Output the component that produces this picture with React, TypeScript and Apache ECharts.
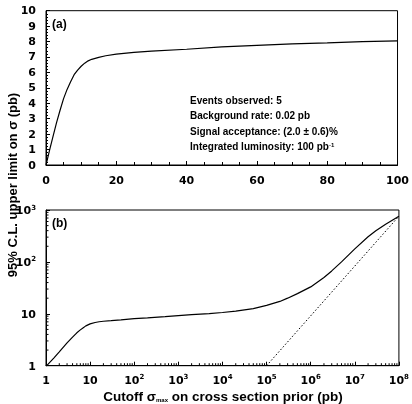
import React, { useEffect, useRef } from "react";
import * as echarts from "echarts";

// Panel (a): linear cutoff scale
const topX = [0, 1, 2, 3, 4, 5, 6, 7, 8, 9, 10, 11, 12, 13, 15, 17, 20, 25, 30, 40, 50, 60, 70, 80, 90, 100];
const topY = [0, 0.95, 1.85, 2.75, 3.55, 4.3, 4.9, 5.4, 5.85, 6.15, 6.4, 6.6, 6.75, 6.85, 6.98, 7.08, 7.18, 7.3, 7.38, 7.5, 7.65, 7.75, 7.85, 7.92, 8.0, 8.05];

// Panel (b): logarithmic cutoff scale
const botX = [1, 1.5, 2, 3, 4, 5, 6, 7, 8, 10, 13, 16, 20, 30, 50, 100, 200, 500, 1e3, 2e3, 5e3, 1e4, 2e4, 5e4, 1e5, 2e5, 3e5, 5e5, 1e6, 2e6, 3e6, 5e6, 1e7, 2e7, 3e7, 5e7, 1e8];
const botY = [0.97, 1.4, 1.85, 2.75, 3.55, 4.3, 4.9, 5.4, 5.85, 6.4, 6.8, 7.03, 7.18, 7.38, 7.65, 8.05, 8.35, 8.8, 9.2, 9.6, 10.1, 10.6, 11.3, 12.6, 14.5, 17.3, 20, 24.5, 33, 50, 67, 100, 178, 305, 398, 533, 760];

// Dotted asymptote
const dashX = [1e5, 1e8];
const dashY = [1, 760];

const infoLines = [
  "Events observed: 5",
  "Background rate: 0.02 pb",
  "Signal acceptance: (2.0 \u00b1 0.6)%",
  "Integrated luminosity: 100 pb{sup|-1}",
];

const minorMultipliers = [2, 3, 4, 5, 6, 7, 8, 9];
const xDecades = [1, 10, 100, 1e3, 1e4, 1e5, 1e6, 1e7];
const yDecades = [1, 10, 100];

const TICK_FONT = "DejaVu Sans";
const TEXT_FONT = "Liberation Sans";

function logLabel(v: number) {
  const e = Math.round(Math.log10(v));
  if (e === 0) return "{b|1}";
  if (e === 1) return "{b|10}";
  return "{b|10}{sup|" + e + "}";
}

const tickRich = {
  b: { fontFamily: TICK_FONT, fontWeight: "bold", fontSize: 11, color: "#000", lineHeight: 12, verticalAlign: "bottom" },
  sup: { fontFamily: TICK_FONT, fontWeight: "bold", fontSize: 7, color: "#000", lineHeight: 7, verticalAlign: "top" },
};

export default function App() {
  const ref = useRef<HTMLDivElement>(null);
  useEffect(() => {
    if (!ref.current) return;
    const chart = echarts.init(ref.current, null, { renderer: "svg" });

    const minorXData: number[][] = [];
    xDecades.forEach((d) => minorMultipliers.forEach((m) => minorXData.push([m * d, 1])));
    const minorYData: number[][] = [];
    yDecades.forEach((d) => minorMultipliers.forEach((m) => minorYData.push([1, m * d])));

    const axisLabelBase = {
      fontFamily: TICK_FONT,
      fontWeight: "bold",
      fontSize: 11,
      color: "#000",
    };

    const option: any = {
      animation: false,
      grid: [
        { left: 46, top: 10.7, width: 355, height: 154.3, show: true, borderColor: "#000", borderWidth: 1, containLabel: false },
        { left: 46, top: 210, width: 355, height: 155.7, show: true, borderColor: "#000", borderWidth: 1, containLabel: false },
      ],
      xAxis: [
        {
          type: "value", gridIndex: 0, min: 0, max: 100, interval: 20,
          axisLine: { lineStyle: { color: "#000", width: 1 } },
          axisTick: { inside: true, length: 4, lineStyle: { color: "#000" } },
          minorTick: { show: true, splitNumber: 4, length: 3, lineStyle: { color: "#000" } },
          splitLine: { show: false },
          axisLabel: { ...axisLabelBase, margin: 10 },
        },
        {
          type: "log", logBase: 10, gridIndex: 1, min: 1, max: 1e8, interval: 1,
          axisLine: { lineStyle: { color: "#000", width: 1 } },
          axisTick: { inside: true, length: 4, lineStyle: { color: "#000" } },
          splitLine: { show: false },
          axisLabel: { ...axisLabelBase, margin: 8, formatter: logLabel, rich: tickRich },
        },
      ],
      yAxis: [
        {
          type: "value", gridIndex: 0, min: 0, max: 10, interval: 1,
          axisLine: { lineStyle: { color: "#000", width: 1 } },
          axisTick: { inside: true, length: 4, lineStyle: { color: "#000" } },
          minorTick: { show: true, splitNumber: 5, length: 2, lineStyle: { color: "#000" } },
          splitLine: { show: false },
          axisLabel: { ...axisLabelBase, margin: 10 },
        },
        {
          type: "log", logBase: 10, gridIndex: 1, min: 1, max: 1000, interval: 1,
          axisLine: { lineStyle: { color: "#000", width: 1 } },
          axisTick: { inside: true, length: 4, lineStyle: { color: "#000" } },
          splitLine: { show: false },
          axisLabel: { ...axisLabelBase, margin: 10, formatter: logLabel, rich: tickRich },
        },
      ],
      series: [
        {
          type: "line", xAxisIndex: 0, yAxisIndex: 0, showSymbol: false,
          lineStyle: { color: "#000", width: 1.2 },
          data: topX.map((x, i) => [x, topY[i]]),
        },
        {
          type: "line", xAxisIndex: 1, yAxisIndex: 1, showSymbol: false,
          lineStyle: { color: "#000", width: 1.2 },
          data: botX.map((x, i) => [x, botY[i]]),
        },
        {
          type: "line", xAxisIndex: 1, yAxisIndex: 1, showSymbol: false,
          lineStyle: { color: "#000", width: 1, type: [1.5, 2] },
          data: dashX.map((x, i) => [x, dashY[i]]),
        },
        {
          type: "custom", xAxisIndex: 1, yAxisIndex: 1, silent: true, clip: false,
          renderItem: (_p: any, api: any) => {
            const pt = api.coord([api.value(0), api.value(1)]);
            return { type: "line", shape: { x1: pt[0], y1: pt[1], x2: pt[0], y2: pt[1] - 2.5 }, style: { stroke: "#000", lineWidth: 1 } };
          },
          data: minorXData,
        },
        {
          type: "custom", xAxisIndex: 1, yAxisIndex: 1, silent: true, clip: false,
          renderItem: (_p: any, api: any) => {
            const pt = api.coord([api.value(0), api.value(1)]);
            return { type: "line", shape: { x1: pt[0], y1: pt[1], x2: pt[0] + 2.5, y2: pt[1] }, style: { stroke: "#000", lineWidth: 1 } };
          },
          data: minorYData,
        },
      ],
      graphic: [
        { type: "text", x: 52, y: 24, style: { text: "(a)", fontFamily: TEXT_FONT, fontWeight: "bold", fontSize: 12, fill: "#000", align: "left", verticalAlign: "middle" } },
        { type: "text", x: 52, y: 223, style: { text: "(b)", fontFamily: TEXT_FONT, fontWeight: "bold", fontSize: 12, fill: "#000", align: "left", verticalAlign: "middle" } },
        ...infoLines.map((t, i) => ({
          type: "text", x: 190, y: 100 + i * 15.6,
          style: {
            text: t, fontFamily: TEXT_FONT, fontWeight: "bold", fontSize: 10, fill: "#000", align: "left", verticalAlign: "middle",
            rich: {
              sup: { fontFamily: TEXT_FONT, fontWeight: "bold", fontSize: 6, fill: "#000", lineHeight: 7, verticalAlign: "top" },
            },
          },
        })),
        {
          type: "text", x: 12, y: 185, rotation: Math.PI / 2,
          style: { text: "95% C.L. upper limit on \u03c3 (pb)", fontFamily: TEXT_FONT, fontWeight: "bold", fontSize: 13, fill: "#000", align: "center", verticalAlign: "middle" },
        },
        {
          type: "text", x: 223, y: 396,
          style: {
            text: "{m|Cutoff \u03c3}{s|max}{m| on cross section prior (pb)}",
            align: "center", verticalAlign: "middle",
            rich: {
              m: { fontFamily: TEXT_FONT, fontWeight: "bold", fontSize: 13.5, fill: "#000", lineHeight: 14, verticalAlign: "middle" },
              s: { fontFamily: TEXT_FONT, fontWeight: "bold", fontSize: 6, fill: "#000", lineHeight: 7, verticalAlign: "bottom" },
            },
          },
        },
      ],
    };
    chart.setOption(option);
    return () => chart.dispose();
  }, []);
  return <div ref={ref} style={{ position: "fixed", left: 0, top: 0, width: 412, height: 404 }} />;
}
